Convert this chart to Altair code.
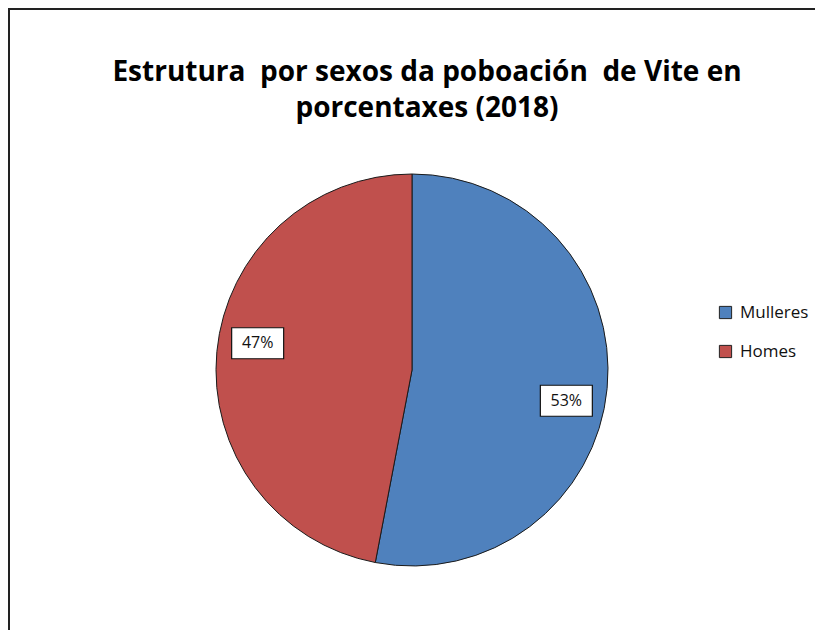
import altair as alt
import pandas as pd

categories = ["Mulleres", "Homes"]
values = [53, 47]
labels = ["53%", "47%"]
order = [1, 2]
colors = ["#4F81BD", "#C0504D"]
title_lines = ["Estrutura \u00a0por sexos da poboación \u00a0de Vite en", "porcentaxes (2018)"]

W, H = 807, 622
CX, CY, R = 404, 362, 196
LR = 157
LDY = 2
FONT = "Open Sans"

df = pd.DataFrame({"sexo": categories, "valor": values, "etiqueta": labels, "orde": order})

base = alt.Chart(df)

pie = base.mark_arc(stroke="#1a1a1a", strokeWidth=1, radius=R).encode(
    theta=alt.Theta("valor:Q", stack=True),
    order=alt.Order("orde:Q"),
    color=alt.Color(
        "sexo:N",
        scale=alt.Scale(domain=categories, range=colors),
        sort=categories,
        legend=alt.Legend(
            title=None,
            orient="none",
            legendX=709,
            legendY=296,
            symbolType="square",
            symbolSize=150,
            symbolStrokeColor="#222222",
            symbolStrokeWidth=1,
            labelFont=FONT,
            labelFontSize=17,
            labelColor="#111111",
            rowPadding=21,
            symbolOffset=0,
            labelOffset=6,
        ),
    ),
    x=alt.value(CX),
    y=alt.value(CY),
)

pos = (
    base.transform_window(cum="sum(valor)", sort=[alt.SortField("orde")])
    .transform_joinaggregate(total="sum(valor)")
    .transform_calculate(
        ang="((datum.cum - datum.valor/2) / datum.total) * 2 * PI + 0.09",
    )
    .transform_calculate(
        px=f"{CX} + {LR} * sin(datum.ang)",
        py=f"{CY + LDY} - {LR} * cos(datum.ang)",
    )
)

box = pos.mark_point(
    shape="M-1,-0.596L1,-0.596L1,0.596L-1,0.596Z",
    size=52 * 52,
    filled=True,
    fill="white",
    stroke="#111111",
    strokeWidth=1.2,
    opacity=1,
).encode(
    x=alt.X("px:Q", scale=None),
    y=alt.Y("py:Q", scale=None),
)

txt = pos.mark_text(font=FONT, fontSize=16, color="#111111", baseline="middle", align="center").encode(
    x=alt.X("px:Q", scale=None),
    y=alt.Y("py:Q", scale=None),
    text="etiqueta:N",
)

tdf = pd.DataFrame({"t": [title_lines[0], title_lines[1]], "linha": [0, 1]})
title = alt.Chart(tdf).mark_text(
    font=FONT, fontSize=28, fontWeight="bold", color="#000000", align="center", baseline="alphabetic"
).encode(
    x=alt.value(419),
    y=alt.Y("linha:Q", scale=alt.Scale(domain=[0, 1], range=[73, 109]), axis=None),
    text="t:N",
)

fdf = pd.DataFrame({"k": [0]})
top_line = alt.Chart(fdf).mark_rule(color="#222222", strokeWidth=2).encode(
    x=alt.value(0), x2=alt.value(W), y=alt.value(1)
)
left_line = alt.Chart(fdf).mark_rule(color="#222222", strokeWidth=2).encode(
    x=alt.value(1), y=alt.value(0), y2=alt.value(H)
)

chart = (
    alt.layer(pie, box, txt, title, top_line, left_line)
    .properties(width=W, height=H, padding=0, autosize=alt.AutoSizeParams(type="none"))
    .configure_view(stroke=None)
    .resolve_scale(y="independent")
)

chart.save("out.html", embed_options={"renderer": "svg", "actions": False})
